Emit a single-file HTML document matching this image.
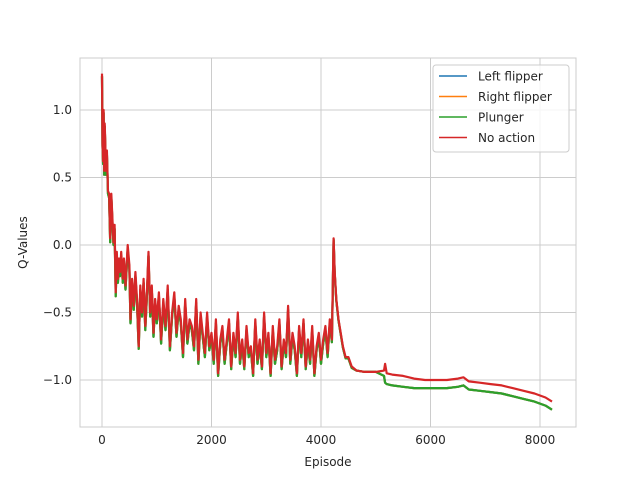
<!DOCTYPE html>
<html><head><meta charset="utf-8"><style>
body{margin:0;background:#fff;font-family:"Liberation Sans","DejaVu Sans",sans-serif;}
svg text{font-family:"DejaVu Sans","Liberation Sans",sans-serif;fill:#262626;}
</style></head><body>
<svg id="chart" width="640" height="480" xmlns="http://www.w3.org/2000/svg"></svg>
<script>
const episodes = [0,10,20,30,40,50,60,70,90,110,130,150,170,190,210,230,250,270,290,310,330,350,380,400,430,450,470,500,520,550,580,610,640,670,700,730,760,790,820,850,880,910,940,970,1000,1040,1080,1120,1160,1200,1240,1280,1320,1360,1400,1440,1480,1520,1560,1600,1640,1680,1720,1760,1800,1840,1880,1920,1960,2000,2040,2080,2120,2160,2200,2240,2280,2320,2360,2400,2440,2480,2520,2560,2600,2640,2680,2720,2760,2800,2840,2880,2920,2960,3000,3040,3080,3120,3160,3200,3240,3280,3320,3360,3400,3440,3480,3520,3560,3600,3640,3680,3720,3760,3800,3840,3880,3920,3960,4000,4040,4080,4120,4160,4200,4230,4250,4280,4320,4360,4400,4450,4500,4560,4650,4800,5000,5150,5170,5200,5300,5500,5700,5900,6100,6300,6500,6600,6700,6900,7100,7300,7500,7700,7900,8100,8220];
const noAction = [1.27,0.75,0.62,1.0,0.55,0.9,0.75,0.55,0.70,0.40,0.38,0.05,0.38,0.20,0.02,0.15,-0.35,-0.05,-0.25,-0.10,-0.20,-0.05,-0.25,-0.10,-0.30,-0.15,0.0,-0.15,-0.55,-0.25,-0.45,-0.20,-0.40,-0.75,-0.30,-0.50,-0.25,-0.60,-0.35,-0.05,-0.50,-0.30,-0.65,-0.40,-0.55,-0.35,-0.70,-0.40,-0.60,-0.30,-0.75,-0.50,-0.35,-0.65,-0.45,-0.55,-0.80,-0.40,-0.70,-0.55,-0.60,-0.75,-0.40,-0.85,-0.50,-0.65,-0.80,-0.50,-0.75,-0.65,-0.85,-0.55,-0.95,-0.70,-0.60,-0.85,-0.70,-0.55,-0.90,-0.65,-0.80,-0.50,-0.85,-0.70,-0.90,-0.60,-0.80,-0.75,-0.95,-0.55,-0.85,-0.70,-0.90,-0.50,-0.80,-0.65,-0.95,-0.60,-0.85,-0.75,-0.55,-0.90,-0.70,-0.80,-0.45,-0.85,-0.65,-0.75,-0.95,-0.60,-0.80,-0.55,-0.90,-0.70,-0.85,-0.60,-0.95,-0.75,-0.65,-0.85,-0.70,-0.60,-0.80,-0.55,-0.70,0.05,-0.20,-0.40,-0.55,-0.65,-0.75,-0.83,-0.83,-0.90,-0.93,-0.94,-0.94,-0.93,-0.88,-0.95,-0.96,-0.97,-0.99,-1.00,-1.00,-1.00,-0.99,-0.98,-1.01,-1.02,-1.03,-1.04,-1.06,-1.08,-1.10,-1.13,-1.16];
const plunger = [1.25,0.73,0.60,0.98,0.52,0.88,0.72,0.52,0.67,0.38,0.35,0.02,0.36,0.17,0.00,0.12,-0.38,-0.08,-0.28,-0.13,-0.23,-0.08,-0.28,-0.13,-0.33,-0.18,-0.03,-0.18,-0.58,-0.28,-0.48,-0.23,-0.43,-0.77,-0.33,-0.53,-0.28,-0.63,-0.38,-0.08,-0.53,-0.33,-0.68,-0.43,-0.58,-0.38,-0.73,-0.43,-0.63,-0.33,-0.78,-0.53,-0.38,-0.68,-0.48,-0.58,-0.83,-0.43,-0.73,-0.58,-0.63,-0.78,-0.43,-0.88,-0.53,-0.68,-0.83,-0.53,-0.78,-0.68,-0.88,-0.58,-0.97,-0.73,-0.63,-0.88,-0.73,-0.58,-0.92,-0.68,-0.83,-0.53,-0.88,-0.73,-0.92,-0.63,-0.83,-0.78,-0.97,-0.58,-0.88,-0.73,-0.92,-0.53,-0.83,-0.68,-0.97,-0.63,-0.88,-0.78,-0.58,-0.92,-0.73,-0.83,-0.48,-0.88,-0.68,-0.78,-0.97,-0.63,-0.83,-0.58,-0.92,-0.73,-0.88,-0.63,-0.97,-0.78,-0.68,-0.88,-0.73,-0.63,-0.83,-0.58,-0.72,0.04,-0.21,-0.41,-0.56,-0.66,-0.76,-0.84,-0.84,-0.91,-0.93,-0.94,-0.94,-0.97,-1.02,-1.03,-1.04,-1.05,-1.06,-1.06,-1.06,-1.06,-1.05,-1.04,-1.07,-1.08,-1.09,-1.10,-1.12,-1.14,-1.16,-1.19,-1.22];
const seriesNames = ["Left flipper","Right flipper","Plunger","No action"];
const colors = ["#1f77b4","#ff7f0e","#2ca02c","#d62728"];
const xTicks = [0,2000,4000,6000,8000];
const yTicks = [1.0,0.5,0.0,-0.5,-1.0];
const yTickLabels = ["1.0","0.5","0.0","\u22120.5","\u22121.0"];

const svg = document.getElementById('chart');
const NS = "http://www.w3.org/2000/svg";
const L=80,R=576,T=58,B=427;
const xs = v => 102 + v*(540-102)/8000;
const ys = v => 245 - v*135;
function mk(tag, attrs, parent){const e=document.createElementNS(NS,tag);for(const k in attrs)e.setAttribute(k,attrs[k]);(parent||svg).appendChild(e);return e;}
const grid = mk('g',{});


xTicks.forEach(t=>{
  const l=mk('line',{x1:xs(t),x2:xs(t),y1:T,y2:B,stroke:'#cccccc','stroke-width':1},grid);
  
  
  const tx=mk('text',{x:xs(t),y:B+17,'font-size':12,'text-anchor':'middle'});
  
  
  tx.textContent=t;
});
yTicks.forEach((t,i)=>{
  const l=mk('line',{x1:L,x2:R,y1:ys(t),y2:ys(t),stroke:'#cccccc','stroke-width':1},grid);
  
  
  const tx=mk('text',{x:L-8,y:ys(t)+4,'font-size':12,'text-anchor':'end'});
  
  
  tx.textContent=yTickLabels[i];
});
const frame=mk('rect',{x:L,y:T,width:R-L,height:B-T,fill:'none',stroke:'#cccccc','stroke-width':1});


const allSeries=[plunger,plunger,plunger,noAction];
[0,1,2,3].forEach(i=>{
  const d=episodes.map((e,j)=>(j?'L':'M')+xs(e).toFixed(1)+','+ys(allSeries[i][j]).toFixed(1)).join(' ');
  const p=mk('path',{d:d,fill:'none',stroke:colors[i],'stroke-width':2.2,'stroke-linejoin':'round'});
  
  
});
const xl=mk('text',{x:(L+R)/2,y:466,'font-size':12,'text-anchor':'middle'});


xl.textContent='Episode';
const yl=mk('text',{x:27,y:(T+B)/2,'font-size':12,'text-anchor':'middle',transform:'rotate(-90 27 '+((T+B)/2)+')'});


yl.textContent='Q-Values';
const lg=mk('g',{});


mk('rect',{x:433,y:65,width:136,height:87,rx:3,fill:'#fff','fill-opacity':0.8,stroke:'#cccccc'},lg);
seriesNames.forEach((n,i)=>{
  const y=76+i*20.5;
  const ln=mk('line',{x1:439,x2:467,y1:y,y2:y,stroke:colors[i],'stroke-width':1.6},lg);
  
  
  const t=mk('text',{x:478,y:y+4.5,'font-size':12},lg);
  
  
  t.textContent=n;
});
</script>
</body></html>
